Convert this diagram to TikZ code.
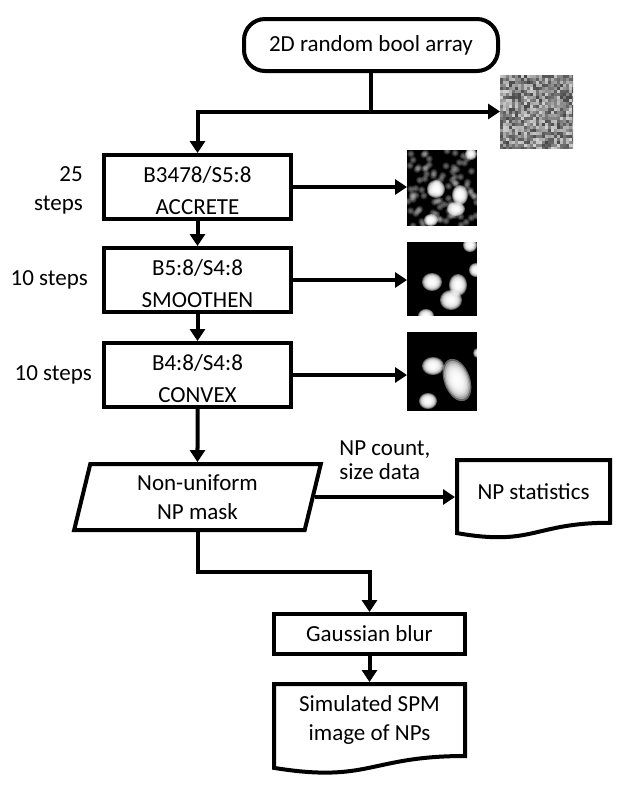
\documentclass[tikz,border=0pt]{standalone}
\usepackage{fontspec}
\setmainfont{Carlito}
\usetikzlibrary{arrows.meta,positioning,shapes.geometric,calc}

\tikzset{
  every node/.style={font=\fontsize{23}{29}\selectfont},
  flow/.style={line width=4pt},
  arrow/.style={flow,-{Triangle[width=15pt,length=12pt]}},
  startbox/.style={draw,line width=4pt,rounded corners=21pt,minimum width=254pt,minimum height=52pt},
  blurbox/.style={draw,line width=4pt,minimum width=191pt,minimum height=40pt,inner sep=2pt},
  stepbox/.style={draw,line width=4pt,minimum width=187pt,minimum height=64pt,align=center,inner sep=2pt,
    font=\fontsize{23}{32}\selectfont},
  steplabel/.style={align=right,inner sep=0pt},
  maskbox/.style={draw,line width=4pt,trapezium,trapezium left angle=79.5,trapezium right angle=100.5,
    trapezium stretches=true,minimum width=247pt,minimum height=66pt,align=center},
  docbox/.style={align=center,inner sep=0pt,outer sep=2pt},
  picbox/.style={inner sep=0pt,outer sep=0pt,fill=black}
}

\newcommand\rulestep[2]{\rule{0pt}{23pt}#1\\#2}

\newcommand\docline[1]{%
  \draw[flow] let \p1=([shift={(2pt,-2pt)}]#1.north west), \p2=([shift={(-2pt,2pt)}]#1.south east),
    \n1={\y1-\y2}, \n2={(\x1+\x2)/2} in
    (\x1,\y1) -- (\x2,\y1) -- (\x2,\y2)
    .. controls (\n2,\y2) and (\n2,{\y2-0.380*\n1}) .. (\x1,{\y2-0.165*\n1}) -- cycle;}

\newcommand\npblob[6]{%
  \foreach \s in {1,0.9,...,0.15}
    \fill[white,fill opacity=#6,rotate around={#5:(#1,#2)}] (#1,#2) ellipse ({#3*\s} and {#4*\s});}

\begin{document}
\begin{tikzpicture}[x=1pt,y=-1pt]
  \useasboundingbox (0,0) rectangle (641,790);

  \node[startbox] (start) at (371,45) {2D random bool array};
  \node[picbox,fill=gray,minimum size=73pt] (noise) at (536.5,111.5) {};

  \node[stepbox] (accrete) at (197.5,187) {\rulestep{B3478/S5:8}{ACCRETE}};
  \node[stepbox,below=25pt of accrete] (smooth) {\rulestep{B5:8/S4:8}{SMOOTHEN}};
  \node[stepbox,below=27pt of smooth] (convex) {\rulestep{B4:8/S4:8}{CONVEX}};
  \node[steplabel,left=19pt of accrete,yshift=-3pt] (accsteps) {25\\steps};
  \node[steplabel,left=14pt of smooth] (smoothsteps) {10 steps};
  \node[steplabel,left=10pt of convex] (convexsteps) {10 steps};

  \node[picbox,minimum width=70pt,minimum height=76pt] (accpic) at (442,188) {};
  \node[picbox,minimum width=70pt,minimum height=74pt] (smoothpic) at (442,279) {};
  \node[picbox,minimum width=70pt,minimum height=79pt] (convexpic) at (442,371.5) {};

  \node[maskbox,below=53pt of convex] (mask) {Non-uniform\\NP mask};
  \node[docbox,minimum width=153pt,minimum height=62.7pt] (stats) at (533.5,491.4) {NP statistics};
  \node[blurbox] (blur) at (369.5,634) {Gaussian blur};
  \node[docbox,minimum width=191pt,minimum height=72pt,below=26pt of blur] (spm) {Simulated SPM\\image of NPs};

  \begin{scope}[shift={(noise.north west)}]
    \clip (0,0) rectangle (73,73);
    \pgfmathsetseed{7}
    \foreach \i in {0,...,24}
      \foreach \j in {0,...,24}{
        \pgfmathsetmacro\gv{int(28+55*rnd)}
        \fill[white!\gv!black] (3*\i,3*\j) rectangle ++(3.3,3.3);
      }
  \end{scope}

  \begin{scope}[shift={(accpic.north west)}]
    \clip (0,0) rectangle (70,76);
    \pgfmathsetseed{5}
    \foreach \k in {1,...,90}{
      \pgfmathsetmacro\px{rnd*70}
      \pgfmathsetmacro\py{rnd*76}
      \npblob{\px}{\py}{4}{4}{0}{0.06}
    }
    \npblob{29}{39}{9}{9}{0}{0.4}
    \npblob{53}{45}{8}{10}{0}{0.4}
    \npblob{49}{59}{9}{7}{0}{0.4}
    \npblob{24}{70}{7}{6}{0}{0.4}
    \npblob{64}{4}{6}{6}{0}{0.35}
  \end{scope}

  \begin{scope}[shift={(smoothpic.north west)}]
    \clip (0,0) rectangle (70,74);
    \npblob{25}{40}{10}{9}{0}{0.4}
    \npblob{51}{43}{9}{11}{0}{0.4}
    \npblob{44}{58}{11}{10}{0}{0.4}
    \npblob{63}{3}{7}{7}{0}{0.4}
    \npblob{69}{28}{7}{7}{0}{0.4}
    \npblob{19}{74}{8}{7}{0}{0.4}
  \end{scope}

  \begin{scope}[shift={(convexpic.north west)}]
    \clip (0,0) rectangle (70,79);
    \npblob{26}{34}{11}{9}{0}{0.4}
    \npblob{50}{48}{13}{22}{20}{0.4}
    \npblob{21}{69}{9}{8}{0}{0.4}
    \npblob{70}{21}{4}{5}{0}{0.25}
  \end{scope}

  \draw[flow] (start.south) -- (start.south |- noise.west) coordinate (fork);
  \draw[arrow] (fork) -- (noise.west);
  \draw[arrow] (fork) -| (accrete.north);
  \draw[arrow] (accrete) -- (smooth);
  \draw[arrow] (smooth) -- (convex);
  \draw[arrow] (convex) -- (mask);
  \draw[arrow] (accrete.east) -- (accrete.east -| accpic.west);
  \draw[arrow] (smooth.east) -- (smooth.east -| smoothpic.west);
  \draw[arrow] (convex.east) -- (convex.east -| convexpic.west);
  \draw[arrow] (mask.east) -- node[above=15pt,steplabel,align=left,font=\fontsize{23}{24}\selectfont] (npdata) {NP count,\\size data} (mask.east -| stats.west);
  \draw[arrow] (mask.south) |- ($(mask.south)!0.5!(blur.north)$) -| (blur.north);
  \draw[arrow] (blur) -- (spm);
  \docline{stats}
  \docline{spm}
\end{tikzpicture}
\end{document}
